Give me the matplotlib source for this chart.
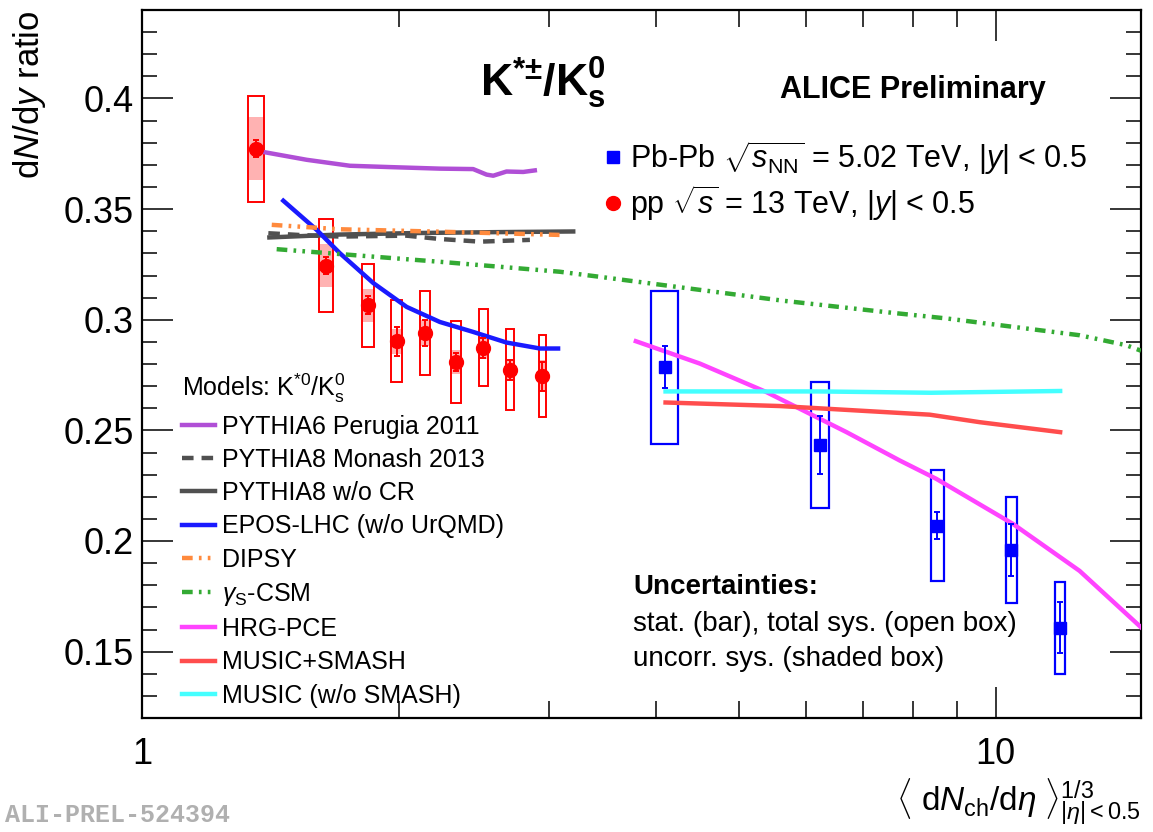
# K*+-/K0s ratio vs multiplicity, pp 13 TeV and Pb-Pb 5.02 TeV with model curves
import matplotlib
matplotlib.use('Agg')
import matplotlib.pyplot as plt
import matplotlib.ticker as ticker
from matplotlib.patches import Rectangle
from matplotlib.lines import Line2D

plt.rcParams['font.family'] = ['Liberation Sans', 'DejaVu Sans']
plt.rcParams['mathtext.fontset'] = 'custom'
plt.rcParams['mathtext.rm'] = 'Liberation Sans'
plt.rcParams['mathtext.it'] = 'Liberation Sans:italic'
plt.rcParams['mathtext.bf'] = 'Liberation Sans:bold'
plt.rcParams['mathtext.sf'] = 'Liberation Sans'

# pp 13 TeV data
pp_x = [1.360, 1.643, 1.838, 1.987, 2.145, 2.332, 2.512, 2.697, 2.945]
pp_y = [0.3773, 0.3245, 0.3065, 0.2903, 0.2940, 0.2809, 0.2874, 0.2774, 0.2745]
pp_stat = [0.0038, 0.0040, 0.0041, 0.0065, 0.0060, 0.0040, 0.0045, 0.0045, 0.0065]
pp_sys = [0.0240, 0.0210, 0.0188, 0.0185, 0.0190, 0.0187, 0.0175, 0.0183, 0.0185]
pp_uncorr = [0.0143, 0.0096, 0.0076, 0.0057, 0.0060, 0.0055, 0.0050, 0.0046, 0.0072]

# Pb-Pb 5.02 TeV data
pb_x = [4.097, 6.233, 8.546, 10.43, 11.90]
pb_y = [0.2786, 0.2434, 0.2070, 0.1959, 0.1608]
pb_stat = [0.0094, 0.0132, 0.0059, 0.0118, 0.0116]
pb_sys = [0.0346, 0.0286, 0.0250, 0.0241, 0.0208]

# model curves
py6_x = [1.393, 1.559, 1.752, 1.951, 2.233, 2.443, 2.533, 2.579, 2.673, 2.796, 2.885]
py6_y = [0.3757, 0.3723, 0.3696, 0.3690, 0.3683, 0.3681, 0.3656, 0.3651, 0.3670, 0.3668, 0.3675]

monash_x = [1.406, 1.531, 1.705, 2.042, 2.233, 2.488, 2.847]
monash_y = [0.3391, 0.3383, 0.3376, 0.3380, 0.3365, 0.3353, 0.3361]

nocr_x = [1.41, 1.70, 2.10, 2.60, 3.20]
nocr_y = [0.3372, 0.3385, 0.3392, 0.3396, 0.3399]

epos_x = [1.464, 1.602, 1.705, 1.866, 2.042, 2.233, 2.443, 2.673, 2.926, 3.072]
epos_y = [0.3538, 0.3406, 0.3301, 0.3166, 0.3058, 0.2990, 0.2945, 0.2897, 0.2870, 0.2870]

dipsy_x = [1.419, 1.705, 2.233, 3.113]
dipsy_y = [0.3429, 0.3409, 0.3398, 0.3383]

csm_x = [1.438, 2.233, 3.086, 3.438, 5.636, 7.58, 8.755, 12.54, 14.22, 14.8]
csm_y = [0.3319, 0.3262, 0.3217, 0.3194, 0.3086, 0.3031, 0.3006, 0.2930, 0.2885, 0.2860]

hrg_x = [3.789, 4.502, 5.389, 6.688, 7.719, 8.52, 10.48, 12.54, 14.8]
hrg_y = [0.2903, 0.2802, 0.2673, 0.2492, 0.2364, 0.2281, 0.2077, 0.1865, 0.1610]

smash_x = [4.105, 5.585, 8.37, 9.58, 11.9]
smash_y = [0.2626, 0.2610, 0.2571, 0.2537, 0.2492]

music_x = [4.105, 6.2, 8.4, 11.9]
music_y = [0.2676, 0.2676, 0.2670, 0.2678]

fig = plt.figure(figsize=(11.53, 8.32), dpi=100)
ax = fig.add_axes([142/1153, 1-718/832, 999/1153, 708/832])

# model curves
lw = 3.2
dashdotdot = (0, (2.4, 1.4, 0.6, 1.4, 0.6, 1.4))
l_py6, = ax.plot(py6_x, py6_y, color='#b04fd6', lw=lw, zorder=3)
l_mon, = ax.plot(monash_x, monash_y, color='#505050', lw=lw, ls=(0, (2.6, 1.8)), zorder=3)
l_nocr, = ax.plot(nocr_x, nocr_y, color='#505050', lw=lw, zorder=3)
l_epos, = ax.plot(epos_x, epos_y, color='#1a1aff', lw=lw, zorder=3)
l_dip, = ax.plot(dipsy_x, dipsy_y, color='#ff8a3d', lw=lw, ls=dashdotdot, zorder=3)
l_csm, = ax.plot(csm_x, csm_y, color='#33aa33', lw=lw, ls=dashdotdot, zorder=3)
l_hrg, = ax.plot(hrg_x, hrg_y, color='#ff44ff', lw=lw, zorder=3)
l_sm, = ax.plot(smash_x, smash_y, color='#ff4d4d', lw=lw, zorder=3)
l_mu, = ax.plot(music_x, music_y, color='#44ffff', lw=lw, zorder=3)

# systematic boxes
for x, y, s, u in zip(pp_x, pp_y, pp_sys, pp_uncorr):
    ax.add_patch(Rectangle((x - 0.03, y - u), 0.06, 2 * u, facecolor='#ff0000', alpha=0.3,
                           edgecolor='none', zorder=2))
    ax.add_patch(Rectangle((x - 0.03, y - s), 0.06, 2 * s, facecolor='none',
                           edgecolor='#ff0000', lw=1.4, zorder=2))
for x, y, s in zip(pb_x, pb_y, pb_sys):
    ax.add_patch(Rectangle((x - 0.15, y - s), 0.30, 2 * s, facecolor='none',
                           edgecolor='#0000ff', lw=1.6, zorder=2))

ax.errorbar(pp_x, pp_y, yerr=pp_stat, fmt='o', color='#ff0000', ms=10, capsize=2.5,
            elinewidth=1.4, capthick=1.4, zorder=5)
ax.errorbar(pb_x, pb_y, yerr=pb_stat, fmt='s', color='#0000ff', ms=9, capsize=2.5,
            elinewidth=1.4, capthick=1.4, zorder=5)

# axes
ax.set_xscale('log')
ax.set_xlim(1, 14.8)
ax.set_ylim(0.12, 0.44)
ax.xaxis.set_major_locator(ticker.FixedLocator([1, 10]))
ax.xaxis.set_major_formatter(ticker.FuncFormatter(lambda v, p: f'{v:g}'))
ax.xaxis.set_minor_locator(ticker.LogLocator(subs=range(2, 10)))
ax.xaxis.set_minor_formatter(ticker.NullFormatter())
ax.yaxis.set_major_locator(ticker.MultipleLocator(0.05))
ax.yaxis.set_minor_locator(ticker.MultipleLocator(0.01))
ax.yaxis.set_major_formatter(ticker.FuncFormatter(lambda v, p: f'{v:g}'))
ax.tick_params(which='both', direction='in', top=True, right=True, width=1.1, labelsize=26)
ax.tick_params(axis='y', which='major', length=22, pad=6)
ax.tick_params(axis='y', which='minor', length=11)
ax.tick_params(axis='x', which='major', length=22, pad=14)
ax.tick_params(axis='x', which='minor', length=12)
for sp in ax.spines.values():
    sp.set_linewidth(1.6)

ax.set_ylabel(r'd$N$/d$y$ ratio', fontsize=25, loc='top')
ax.yaxis.set_label_coords(-0.094, 1.0)
ax.set_xlabel(r'$\langle\ \mathrm{d}N_{\mathrm{ch}}/\mathrm{d}\eta\ \rangle^{1/3}_{|\eta|<0.5}$',
              fontsize=24, loc='right')
ax.xaxis.set_label_coords(1.0, -0.083)

# texts
fig.text(480/1153, 1-97/832, r'$\mathbf{K^{{*}{\pm}}/K^{0}_{s}}$', fontsize=32, va='baseline')
fig.text(780/1153, 1-98/832, 'ALICE Preliminary', fontsize=22, fontweight='bold', va='baseline')
fig.text(633/1153, 1-594/832, 'Uncertainties:', fontsize=20, fontweight='bold', va='baseline')
fig.text(633/1153, 1-631/832, 'stat. (bar), total sys. (open box)', fontsize=20, va='baseline')
fig.text(633/1153, 1-666/832, 'uncorr. sys. (shaded box)', fontsize=20, va='baseline')
fig.text(5/1153, 1-822/832, 'ALI-PREL-524394', fontsize=18, fontweight='bold',
         family='Liberation Mono', color='#b0b0b0', va='baseline')

# data legend
h_pb = Line2D([], [], ls='none', marker='s', color='#0000ff', ms=9)
h_pp = Line2D([], [], ls='none', marker='o', color='#ff0000', ms=10)
leg1 = ax.legend([h_pb, h_pp],
                 [r'Pb-Pb $\sqrt{s_{\mathrm{NN}}}$ = 5.02 TeV, $|y|$ < 0.5',
                  r'pp $\sqrt{s}$ = 13 TeV, $|y|$ < 0.5'],
                 loc='upper left', bbox_to_anchor=(604/1153, 1-139/832),
                 bbox_transform=fig.transFigure, frameon=False, fontsize=22,
                 handlelength=0.6, handletextpad=0.25, labelspacing=0.2,
                 borderpad=0, borderaxespad=0)
ax.add_artist(leg1)

# model legend
handles = [l_py6, l_mon, l_nocr, l_epos, l_dip, l_csm, l_hrg, l_sm, l_mu]
labels = ['PYTHIA6 Perugia 2011', 'PYTHIA8 Monash 2013', 'PYTHIA8 w/o CR',
          'EPOS-LHC (w/o UrQMD)', 'DIPSY', r'$\gamma_{\mathrm{S}}$-CSM', 'HRG-PCE',
          'MUSIC+SMASH', 'MUSIC (w/o SMASH)']
leg2 = ax.legend(handles, labels, loc='upper left', bbox_to_anchor=(182/1153, 1-372/832),
                 bbox_transform=fig.transFigure, frameon=False, fontsize=18,
                 title=r'Models: K$^{*0}$/K$^{0}_{\mathrm{s}}$', title_fontsize=18,
                 alignment='left', handlelength=1.3, handletextpad=0.3,
                 labelspacing=0.37, borderpad=0, borderaxespad=0)

fig.savefig('out.png', dpi=100)
